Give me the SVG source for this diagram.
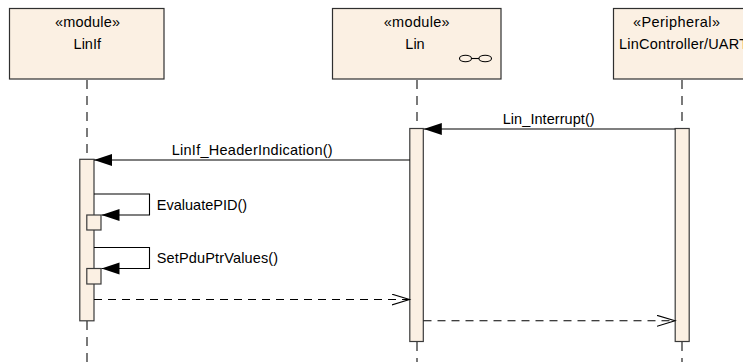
<svg xmlns="http://www.w3.org/2000/svg" width="743" height="362" viewBox="0 0 743 362">
<style>
.box{fill:#FBF0E3;stroke:#2f2f2f;stroke-width:1.2}
.act{fill:#FBF0E3;stroke:#3a3a3a;stroke-width:1.2}
.life{stroke:#333;stroke-width:1.3;stroke-dasharray:9,7;fill:none}
.msg{stroke:#000;stroke-width:1.1;fill:none}
.ret{stroke:#000;stroke-width:1.1;fill:none;stroke-dasharray:8,6}
.t{font-family:"Liberation Sans",Arial,sans-serif;font-size:14.5px;fill:#000}
.c{text-anchor:middle}
</style>
<defs>
<marker id="fill" markerWidth="20" markerHeight="14" refX="18" refY="6" orient="auto" markerUnits="userSpaceOnUse">
<path d="M0,0 L18,6 L0,12 Z" fill="#000"/>
</marker>
<marker id="open" markerWidth="20" markerHeight="14" refX="18" refY="6" orient="auto" markerUnits="userSpaceOnUse">
<path d="M0,0.5 L18,6 L0,11.5" fill="none" stroke="#000" stroke-width="1.1"/>
</marker>
</defs>
<g id="lifelines">
<line class="life" x1="87" y1="80" x2="87" y2="159"/>
<line class="life" x1="87" y1="321" x2="87" y2="362"/>
<line class="life" x1="417" y1="80" x2="417" y2="128"/>
<line class="life" x1="417" y1="342" x2="417" y2="362"/>
<line class="life" x1="682" y1="80" x2="682" y2="128"/>
<line class="life" x1="682" y1="342" x2="682" y2="362"/>
</g>
<g id="LinIf">
<rect class="box" x="9.5" y="8.5" width="154.5" height="70.5"/>
<text class="t c" x="87.5" y="26.5" textLength="65" lengthAdjust="spacing">«module»</text>
<text class="t c" x="87.3" y="48.5">LinIf</text>
</g>
<g id="Lin">
<rect class="box" x="332.5" y="8.5" width="168.5" height="70.5"/>
<text class="t c" x="416.7" y="26.5" textLength="66" lengthAdjust="spacing">«module»</text>
<text class="t c" x="415" y="48.5">Lin</text>
<g fill="none" stroke="#000" stroke-width="1.1">
<ellipse cx="465.5" cy="58.5" rx="6" ry="3.3"/>
<ellipse cx="485.2" cy="58.5" rx="6.3" ry="3.3"/>
<line x1="471.5" y1="58.5" x2="479" y2="58.5"/>
</g>
</g>
<g id="LinController">
<rect class="box" x="613.5" y="8.5" width="140" height="70.5"/>
<text class="t c" x="676.5" y="26.5" textLength="87" lengthAdjust="spacing">«Peripheral»</text>
<text class="t" x="619" y="48.5" textLength="129" lengthAdjust="spacing">LinController/UART</text>
</g>
<g id="activations">
<rect class="act" x="79.8" y="159.3" width="14.2" height="161.5"/>
<rect class="act" x="86.8" y="215" width="14.2" height="15"/>
<rect class="act" x="86.8" y="268.5" width="14.2" height="15.5"/>
<rect class="act" x="409.8" y="128.5" width="13.5" height="213"/>
<rect class="act" x="675.2" y="128.5" width="14" height="213"/>
</g>
<g id="connectors">
<line class="msg" x1="675.2" y1="129" x2="423.8" y2="129" marker-end="url(#fill)"/>
<line class="msg" x1="409.8" y1="160" x2="94" y2="160" marker-end="url(#fill)"/>
<polyline class="msg" points="94,194 149.5,194 149.5,215 101.5,215" marker-end="url(#fill)"/>
<polyline class="msg" points="94,247.5 149.5,247.5 149.5,268.5 101.5,268.5" marker-end="url(#fill)"/>
<line class="ret" x1="94" y1="299.5" x2="409.5" y2="299.5" marker-end="url(#open)"/>
<line class="ret" x1="423.5" y1="320.8" x2="675" y2="320.8" marker-end="url(#open)"/>
</g>
<g id="labels">
<text class="t" x="502.7" y="124" textLength="92" lengthAdjust="spacing">Lin_Interrupt()</text>
<text class="t" x="171.7" y="155" textLength="161" lengthAdjust="spacing">LinIf_HeaderIndication()</text>
<text class="t" x="156.7" y="210" textLength="90.5" lengthAdjust="spacing">EvaluatePID()</text>
<text class="t" x="156.7" y="263" textLength="121.5" lengthAdjust="spacing">SetPduPtrValues()</text>
</g>
</svg>
